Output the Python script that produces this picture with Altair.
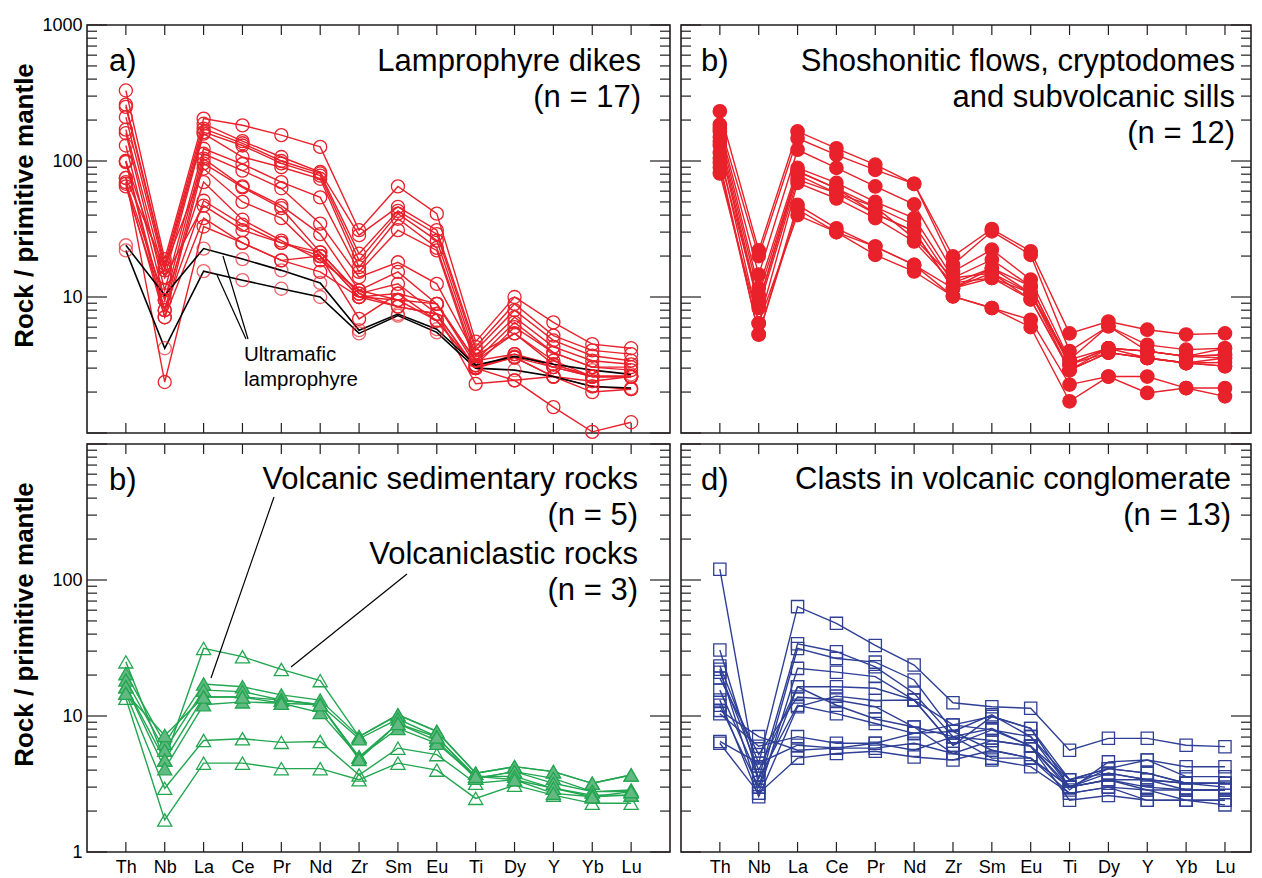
import altair as alt
import pandas as pd

ELEMENTS = ["Th", "Nb", "La", "Ce", "Pr", "Nd", "Zr", "Sm", "Eu", "Ti", "Dy", "Y", "Yb", "Lu"]

# a) Lamprophyre dikes (15 red samples)
LAMPROPHYRE = [
    [330, 19, 205, 183, 155, 127, 31, 65, 41, 4.7, 10, 6.5, 4.5, 4.2],
    [260, 17.6, 188, 140, 107, 83, 28.5, 46, 31, 4.3, 8.9, 5.2, 4.05, 3.8],
    [250, 16.6, 173, 135, 100, 81, 20.8, 43, 29, 4.05, 8.0, 4.8, 3.7, 3.4],
    [210, 15.7, 163, 130, 96, 78, 18.6, 41, 26, 3.7, 7.1, 4.3, 3.4, 3.2],
    [170, 14, 159, 107, 90, 74, 16.6, 37.6, 23, 3.4, 6.5, 3.9, 3.05, 3.05],
    [160, 11.2, 123, 95, 70, 54, 15.3, 31, 22, 3.15, 6.0, 3.9, 3.05, 2.9],
    [130, 9.5, 113, 85, 63, 34.6, 14, 18, 12.5, 3.7, 5.4, 3.2, 2.6, 2.6],
    [100, 8, 104, 65, 47, 29, 11.2, 15.3, 8.9, 3.4, 5.4, 3.4, 2.6, 2.6],
    [98, 7.1, 96, 64, 45, 21.3, 10.6, 12.5, 7.5, 3.0, 3.8, 3.05, 2.6, 2.6],
    [75, 16.6, 88, 50, 38, 20, 10, 10.6, 6.7, 3.0, 3.6, 2.6, 2.2, 2.1],
    [70, 9.5, 70, 37, 26, 18.6, 11.2, 9.5, 8.9, 3.15, 3.6, 3.05, 2.6, 2.6],
    [65, 8, 51, 34, 25, 21.3, 10.6, 8.5, 7.5, 2.3, 2.44, 1.55, 1.02, 1.2],
    [100, 14, 47, 31, 25, 20, 6.9, 10.6, 8.9, 3.4, 3.8, 3.2, 2.6, 2.6],
    [68, 7.1, 38, 25, 18.6, 15.3, 10, 9.5, 6.7, 3.05, 3.6, 2.6, 2.4, 2.6],
    [75, 2.37, 33, 25, 18.6, 20, 10, 8.5, 7.5, 3.0, 2.44, 2.6, 2.0, 2.1],
]
# a) Ultramafic lamprophyre (2 samples, black lines)
ULTRAMAFIC = [
    [24, 10.3, 22.7, 19, 15.7, 12.7, 5.7, 7.5, 5.8, 3.15, 3.66, 3.2, 2.9, 2.7],
    [22, 4.2, 15.5, 13.3, 11.5, 10, 5.4, 7.3, 5.5, 3.0, 2.9, 2.6, 2.2, 2.14],
]
# b) Shoshonitic flows, cryptodomes and subvolcanic sills (12)
SHOSHONITIC = [
    [232, 22, 165, 124, 94, 68, 19.9, 31.6, 21.7, 5.4, 6.6, 5.75, 5.3, 5.4],
    [185, 20, 147, 111, 86, 68, 17.3, 30.4, 20.4, 4.0, 6.1, 4.45, 4.1, 4.2],
    [175, 14.6, 121, 89, 65, 48, 15.4, 22.3, 13.4, 3.46, 6.1, 4.0, 3.66, 3.76],
    [165, 11.6, 89, 69, 50, 38, 13.8, 18.8, 12.0, 3.2, 4.2, 4.0, 3.66, 3.56],
    [150, 10.4, 84, 63, 46, 34, 12.7, 16.3, 10.7, 3.46, 4.2, 3.56, 3.27, 3.3],
    [140, 9.0, 79, 58, 41, 30.4, 11.6, 15, 10.7, 3.2, 3.9, 3.56, 3.27, 3.1],
    [130, 8.3, 73, 58, 46, 27, 13.8, 15, 9.6, 2.9, 3.9, 3.56, 3.27, 3.56],
    [115, 6.4, 69, 53, 38, 25.6, 12.7, 13.8, 9.6, 2.9, 4.2, 4.0, 3.66, 4.2],
    [105, 9, 84, 63, 41, 30.4, 11.6, 16.3, 12, 3.2, 4.2, 4.0, 3.66, 3.76],
    [97, 5.3, 47.6, 32, 23.5, 17.2, 10.1, 8.3, 6.8, 2.27, 2.6, 2.6, 2.14, 2.14],
    [90, 5.3, 44, 30, 20.4, 15.4, 10.1, 8.3, 6.0, 1.71, 2.6, 1.97, 2.14, 1.86],
    [81, 6.4, 40, 30, 23.5, 17.2, 11.6, 13.8, 10.7, 2.9, 3.9, 3.56, 3.27, 3.1],
]
# c) Volcanic sedimentary rocks (5, filled triangles)
VOLC_SEDIMENTARY = [
    [20.5, 6.3, 17.2, 16.4, 14.3, 13.1, 7.05, 10.2, 7.7, 3.8, 4.24, 3.9, 3.2, 3.68],
    [18.4, 5.6, 15.5, 15.1, 13.1, 12.1, 6.8, 9.5, 7.05, 3.48, 3.9, 3.48, 2.78, 2.86],
    [16.4, 4.75, 13.8, 13.8, 13.1, 12.1, 5.0, 8.8, 6.6, 3.48, 3.9, 3.2, 2.78, 2.78],
    [16.4, 4.1, 12.1, 12.7, 12.4, 10.6, 5.0, 8.1, 6.3, 3.6, 3.6, 2.94, 2.62, 2.62],
    [14.7, 7.2, 13.8, 13.8, 12.4, 12.1, 4.8, 8.8, 7.0, 3.6, 3.4, 2.7, 2.55, 2.78],
]
# c) Volcaniclastic rocks (3, open triangles)
VOLCANICLASTIC = [
    [25, 4.75, 31.4, 27.3, 22, 18.2, 7.05, 10.2, 7.7, 3.8, 4.24, 3.9, 3.2, 3.68],
    [14.7, 2.94, 6.6, 6.8, 6.4, 6.5, 3.68, 5.8, 5.2, 3.2, 3.4, 2.94, 2.55, 2.62],
    [13.5, 1.72, 4.5, 4.5, 4.1, 4.1, 3.4, 4.5, 4.0, 2.48, 3.1, 2.62, 2.28, 2.28],
]
# d) Clasts in volcanic conglomerate (13)
CLASTS = [
    [120, 3.0, 31.4, 26.5, 24.9, 18.4, 7.7, 5.6, 4.9, 3.0, 3.4, 2.86, 2.86, 2.86],
    [23.3, 4.5, 63.7, 48, 33, 23.7, 12.5, 11.7, 11.4, 5.6, 6.85, 6.85, 6.1, 5.95],
    [30.6, 3.48, 34, 29.7, 23, 14.7, 7.05, 6.6, 6.0, 3.4, 4.1, 3.8, 3.2, 3.2],
    [22.1, 2.7, 22.4, 21, 19.5, 13.1, 8.6, 7.9, 7.05, 3.0, 4.1, 4.75, 3.58, 3.58],
    [21, 4.0, 16.4, 16.4, 16, 13.1, 6.1, 9.9, 8.1, 3.0, 3.8, 3.4, 3.2, 3.0],
    [19, 5.2, 13.8, 13.1, 11.7, 8.3, 5.3, 4.75, 4.24, 2.7, 3.0, 2.86, 2.4, 2.4],
    [15.5, 3.48, 12, 10.4, 8.8, 7.45, 8.6, 9.9, 8.1, 3.4, 3.8, 3.4, 3.2, 3.2],
    [13.1, 2.55, 11.7, 14, 13, 13.1, 6.1, 7.9, 6.0, 2.4, 2.6, 2.4, 2.4, 2.22],
    [12, 3.0, 16.4, 12, 9.5, 8.3, 7.05, 4.9, 4.9, 3.0, 3.4, 3.4, 2.86, 2.86],
    [10.4, 6.0, 7.05, 6.3, 6.3, 7.45, 7.7, 10.2, 7.05, 3.4, 4.1, 3.8, 3.2, 3.2],
    [6.5, 4.5, 6.1, 5.8, 5.8, 6.3, 5.3, 6.6, 6.0, 3.0, 3.4, 3.0, 2.86, 2.86],
    [6.3, 2.7, 4.9, 5.3, 5.5, 5.0, 4.75, 5.6, 4.9, 2.7, 3.0, 2.4, 2.4, 2.4],
    [11, 7.05, 5.6, 5.8, 6.3, 5.6, 7.05, 8.1, 6.0, 2.86, 4.6, 4.75, 4.24, 4.24],
]

Y_MAJOR = [1, 10, 100, 1000]
Y_MINOR = [m * d for d in (1, 10, 100) for m in range(2, 10)]

RED = "#e8212b"
GREEN = "#22a650"
GREEN_FILL = "#62b981"
BLUE = "#2e3f95"
FRAME = "#231f20"
FONT = "Liberation Sans"

H = 408
W_LEFT, XMAX_LEFT = 583, 14.0
W_RIGHT, XMAX_RIGHT = 570, 13.67
TITLE = "Rock / primitive mantle"
LABEL_EXPR = "[" + ",".join(f"'{e}'" for e in ELEMENTS) + "][datum.value]"


def long_df(rows, kind):
    recs = []
    for s, vals in enumerate(rows):
        for i, v in enumerate(vals):
            recs.append({"sample": f"{kind}{s}", "idx": i, "value": v})
    return pd.DataFrame(recs)


def encodings(left, bottom):
    xmax = XMAX_LEFT if left else XMAX_RIGHT
    if bottom:
        xaxis = alt.Axis(title=None, ticks=False, domain=False, labelAngle=0,
                         values=list(range(len(ELEMENTS))), labelExpr=LABEL_EXPR,
                         labelFontSize=18, labelFont=FONT, labelColor="black",
                         labelPadding=6, grid=False)
    else:
        xaxis = None
    if left:
        vals = [10, 100, 1000] if not bottom else [1, 10, 100]
        yaxis = alt.Axis(title=TITLE, values=vals, format="d", ticks=False, domain=False,
                         grid=False, labelFontSize=18, labelFont=FONT, labelColor="black",
                         labelPadding=5, titleFont=FONT, titleFontSize=26,
                         titleFontWeight="bold", titleColor="black", titleY=180,
                         titleX=-63, titleBaseline="middle")
    else:
        yaxis = None
    X = alt.X("idx:Q", scale=alt.Scale(domain=[-1, xmax], nice=False, zero=False), axis=xaxis)
    Y = alt.Y("value:Q", scale=alt.Scale(type="log", domain=[1, 1000]), axis=yaxis)
    return X, Y


def frame_ticks(X, Y, W):
    major = pd.DataFrame({"value": Y_MAJOR})
    minor = pd.DataFrame({"value": Y_MINOR})
    els = pd.DataFrame({"idx": list(range(len(ELEMENTS)))})
    out = []
    for df, ln in ((major, 20), (minor, 10)):
        out.append(alt.Chart(df).mark_rule(color=FRAME, strokeWidth=1.2).encode(
            y=Y, x=alt.value(0), x2=alt.value(ln)))
        out.append(alt.Chart(df).mark_rule(color=FRAME, strokeWidth=1.2).encode(
            y=Y, x=alt.value(W - ln), x2=alt.value(W)))
    out.append(alt.Chart(els).mark_rule(color=FRAME, strokeWidth=1.2).encode(
        x=X, y=alt.value(0), y2=alt.value(10)))
    out.append(alt.Chart(els).mark_rule(color=FRAME, strokeWidth=1.2).encode(
        x=X, y=alt.value(H - 10), y2=alt.value(H)))
    return out


def text(label, x, y, size=31, align="right"):
    return alt.Chart(alt.Data(values=[{}])).mark_text(
        font=FONT, fontSize=size, align=align, baseline="middle", color="black"
    ).encode(x=alt.value(x), y=alt.value(y), text=alt.value(label))


def pointer(x1, y1, x2, y2):
    return alt.Chart(alt.Data(values=[{}])).mark_rule(color="black", strokeWidth=1.2).encode(
        x=alt.value(x1), y=alt.value(y1), x2=alt.value(x2), y2=alt.value(y2))


def series(df, X, Y, line_color, shape, filled, fill=None, stroke=None, size=170, sw=1.3):
    line = alt.Chart(df).mark_line(color=line_color, strokeWidth=1.4).encode(
        x=X, y=Y, detail="sample:N", order="idx:Q")
    pk = dict(shape=shape, size=size, strokeWidth=sw, opacity=1)
    if filled:
        pts = alt.Chart(df).mark_point(filled=True, fill=fill, stroke=stroke or fill,
                                       fillOpacity=1, **pk)
    else:
        pts = alt.Chart(df).mark_point(filled=False, color=stroke, **pk)
    return line, pts.encode(x=X, y=Y)


# Panel a
Xa, Ya = encodings(True, False)
la, pa_ = series(long_df(LAMPROPHYRE, "L"), Xa, Ya, RED, "circle", False, stroke=RED)
um = long_df(ULTRAMAFIC, "U")
lu = alt.Chart(um).mark_line(color="black", strokeWidth=1.6).encode(
    x=Xa, y=Ya, detail="sample:N", order="idx:Q")
pu = alt.Chart(um).mark_point(shape="circle", size=170, strokeWidth=1.3, color=RED,
                              filled=False).encode(x=Xa, y=Ya)
panel_a = alt.layer(
    *frame_ticks(Xa, Ya, W_LEFT), la, lu, pa_, pu,
    pointer(136, 231, 161, 314), pointer(130, 250, 159, 314),
    text("a)", 22, 37, align="left"),
    text("Lamprophyre dikes", 554, 37),
    text("(n = 17)", 554, 73),
    text("Ultramafic", 157, 330, size=20.5, align="left"),
    text("lamprophyre", 157, 355, size=20.5, align="left"),
).properties(width=W_LEFT, height=H)

# Panel b
Xb, Yb = encodings(False, False)
lb, pb_ = series(long_df(SHOSHONITIC, "S"), Xb, Yb, RED, "circle", True, fill=RED, stroke=RED, size=180)
panel_b = alt.layer(
    *frame_ticks(Xb, Yb, W_RIGHT), lb, pb_,
    text("b)", 20, 37, align="left"),
    text("Shoshonitic flows, cryptodomes", 554, 37),
    text("and subvolcanic sills", 554, 73),
    text("(n = 12)", 554, 109),
).properties(width=W_RIGHT, height=H)

# Panel c
Xc, Yc = encodings(True, True)
lc1, pc1 = series(long_df(VOLCANICLASTIC, "V"), Xc, Yc, GREEN, "triangle-up", False, stroke=GREEN, size=200)
lc2, pc2 = series(long_df(VOLC_SEDIMENTARY, "F"), Xc, Yc, GREEN, "triangle-up", True, fill=GREEN_FILL, stroke=GREEN, size=200)
panel_c = alt.layer(
    *frame_ticks(Xc, Yc, W_LEFT), lc1, lc2, pc1, pc2,
    pointer(187, 53, 124, 234), pointer(320, 130, 204, 223),
    text("b)", 22, 37, align="left"),
    text("Volcanic sedimentary rocks", 551, 36),
    text("(n = 5)", 551, 72),
    text("Volcaniclastic rocks", 551, 111),
    text("(n = 3)", 551, 147),
).properties(width=W_LEFT, height=H)

# Panel d
Xd, Yd = encodings(False, True)
ld, pd_ = series(long_df(CLASTS, "C"), Xd, Yd, BLUE, "square", False, stroke=BLUE, size=150)
panel_d = alt.layer(
    *frame_ticks(Xd, Yd, W_RIGHT), ld, pd_,
    text("d)", 20, 37, align="left"),
    text("Clasts in volcanic conglomerate", 550, 36),
    text("(n = 13)", 550, 72),
).properties(width=W_RIGHT, height=H)

chart = alt.concat(panel_a, panel_b, panel_c, panel_d, columns=2, spacing=11,
                   bounds="flush").properties(
    padding={"left": 2, "top": 7, "right": 0, "bottom": 0}, background="white"
).configure_view(stroke=FRAME, strokeWidth=1.6)

chart.save("out.html", embed_options={"renderer": "svg", "actions": False})
